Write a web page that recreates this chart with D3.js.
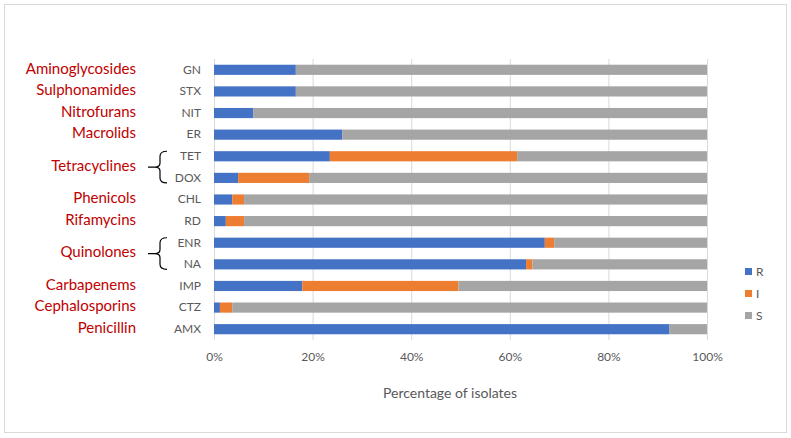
<!DOCTYPE html>
<html><head><meta charset="utf-8">
<script src="https://cdn.jsdelivr.net/npm/d3@7"></script>
<style>body{margin:0;background:#fff;} text{font-family:Lato,"Open Sans",sans-serif;}</style>
</head><body><svg id="c" width="791" height="438"></svg>
<script>
const categories = ["GN","STX","NIT","ER","TET","DOX","CHL","RD","ENR","NA","IMP","CTZ","AMX"];
const R = [16.6,16.6,8.0,26.0,23.5,4.9,3.7,2.4,67.1,63.3,17.9,1.2,92.4];
const I = [0,0,0,0,38.0,14.4,2.4,3.7,1.9,1.3,31.7,2.5,0];
const S = [83.4,83.4,92.0,74.0,38.5,80.7,93.9,93.9,31.0,35.4,50.4,96.3,7.6];
const seriesNames = ["R","I","S"];
const colors = ["#4472c4","#ed7d31","#a5a5a5"];
const xTicks = [0,20,40,60,80,100];
const classLabels = ["Aminoglycosides","Sulphonamides","Nitrofurans","Macrolids","Tetracyclines","Phenicols","Rifamycins","Quinolones","Carbapenems","Cephalosporins","Penicillin"];
const classRows = [["GN"],["STX"],["NIT"],["ER"],["TET","DOX"],["CHL"],["RD"],["ENR","NA"],["IMP"],["CTZ"],["AMX"]];

const svg = d3.select("#c");
svg.append("rect").attr("x",4.5).attr("y",4.5).attr("width",782).attr("height",428)
  .attr("fill","#fff").attr("stroke","#d9d9d9");

const x = d3.scaleLinear().domain([0,100]).range([214,707]);
const y = d3.scaleBand().domain(categories).range([59,340]).paddingInner(0.53).paddingOuter(0.265);

// gridlines
svg.append("g").selectAll("line").data(xTicks).join("line")
  .attr("x1",d=>x(d)+0.5).attr("x2",d=>x(d)+0.5).attr("y1",59).attr("y2",340)
  .attr("stroke","#d9d9d9").attr("stroke-width",1);

// stacked data
const table = categories.map((c,i)=>({cat:c,R:R[i],I:I[i],S:S[i]}));
const stacked = d3.stack().keys(seriesNames)(table);
svg.append("g").selectAll("g").data(stacked).join("g")
  .attr("fill",(d,i)=>colors[i])
  .selectAll("rect").data(d=>d).join("rect")
  .attr("x",d=>x(d[0])).attr("width",d=>Math.max(0,x(d[1])-x(d[0])))
  .attr("y",d=>y(d.data.cat)).attr("height",y.bandwidth());

// x axis labels
const xAxis = d3.axisBottom(x).tickValues(xTicks).tickFormat(d=>d+"%").tickSize(0).tickPadding(0);
const gx = svg.append("g").attr("transform","translate(0,352)").call(xAxis);
gx.select(".domain").remove();
gx.selectAll("text").attr("font-size",12).attr("fill","#595959").attr("dy","0.71em").style("font-family","Lato");

// y axis labels
const yAxis = d3.axisLeft(y).tickSize(0).tickPadding(13);
const gy = svg.append("g").attr("transform","translate(214,0)").call(yAxis);
gy.select(".domain").remove();
gy.selectAll("text").attr("font-size",12).attr("fill","#595959").style("font-family","Lato");

// axis title
svg.append("text").attr("x",450).attr("y",398).attr("text-anchor","middle")
  .attr("font-size",14).attr("fill","#595959").text("Percentage of isolates");

// class labels
const center = c => y(c)+y.bandwidth()/2;
classLabels.forEach((lab,i)=>{
  const rows = classRows[i];
  const cy = d3.mean(rows, center) - 1.5;
  svg.append("text").attr("x",136).attr("y",cy).attr("dy","0.35em").attr("text-anchor","end")
    .attr("font-size",15).attr("fill","#c00000").text(lab);
  if(rows.length>1){
    const top = center(rows[0]) - 5, bot = center(rows[rows.length-1]) + 5, mid=(top+bot)/2;
    const bx = 160;
    svg.append("path")
      .attr("d",`M${bx+7},${top} Q${bx},${top} ${bx},${top+5} L${bx},${mid-4} Q${bx},${mid} ${bx-5},${mid} L${bx-12},${mid} M${bx-5},${mid} Q${bx},${mid} ${bx},${mid+4} L${bx},${bot-5} Q${bx},${bot} ${bx+7},${bot}`)
      .attr("fill","none").attr("stroke","#000").attr("stroke-width",1.2);
  }
});

// legend
const lg = svg.append("g").selectAll("g").data(seriesNames).join("g")
  .attr("transform",(d,i)=>`translate(745,${268+i*22})`);
lg.append("rect").attr("width",7).attr("height",7).attr("fill",(d,i)=>colors[i]);
lg.append("text").attr("x",11).attr("y",4).attr("dy","0.35em").attr("font-size",12).attr("fill","#595959").text(d=>d);
</script></body></html>
